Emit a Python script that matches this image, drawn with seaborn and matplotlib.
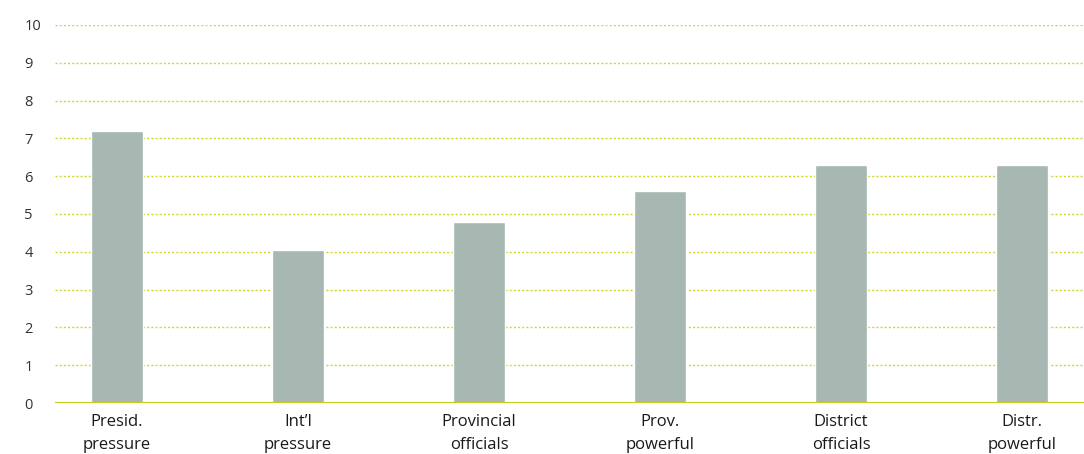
import matplotlib
matplotlib.use("Agg")
import matplotlib.pyplot as plt
import seaborn as sns
import pandas as pd

categories = ["Presid.\npressure", "Int\u2019l\npressure", "Provincial\nofficials",
              "Prov.\npowerful", "District\nofficials", "Distr.\npowerful"]
scores = [7.2, 4.05, 4.8, 5.6, 6.3, 6.3]
y_ticks = [0, 1, 2, 3, 4, 5, 6, 7, 8, 9, 10]

sns.set_theme(style="white")
plt.rcParams["font.family"] = ["Open Sans", "DejaVu Sans"]

df = pd.DataFrame({"category": categories, "score": scores})

fig = plt.figure(figsize=(10.84, 4.54), dpi=100)
ax = fig.add_axes([0.0507, 0.1123, 0.9493, 0.8327])

sns.barplot(data=df, x="category", y="score", color="#a6b8b1", saturation=1,
            width=0.29, ax=ax, zorder=3)

ax.set_ylim(0, 10)
ax.set_xlim(-0.343, 5.343)
ax.set_yticks(y_ticks)
ax.set_yticklabels([str(t) for t in y_ticks])
ax.set_xticks(range(len(categories)))
ax.set_xticklabels(categories, linespacing=1.6)
for t in y_ticks[1:]:
    ax.axhline(t, color="#cfd82a", linestyle=(0, (1.5, 1.5)), linewidth=1.0, zorder=1)
ax.axhline(0, color="#c3cf1c", linewidth=1.5, zorder=4)

for s in ax.spines.values():
    s.set_visible(False)
ax.set_xlabel("")
ax.set_ylabel("")
ax.tick_params(axis="y", length=0, pad=22, labelsize=10.5, labelcolor="#333333")
ax.tick_params(axis="x", length=0, pad=8, labelsize=12, labelcolor="#1a1a1a")
for lbl in ax.get_yticklabels():
    lbl.set_horizontalalignment("left")

fig.savefig("out.png", dpi=100)
